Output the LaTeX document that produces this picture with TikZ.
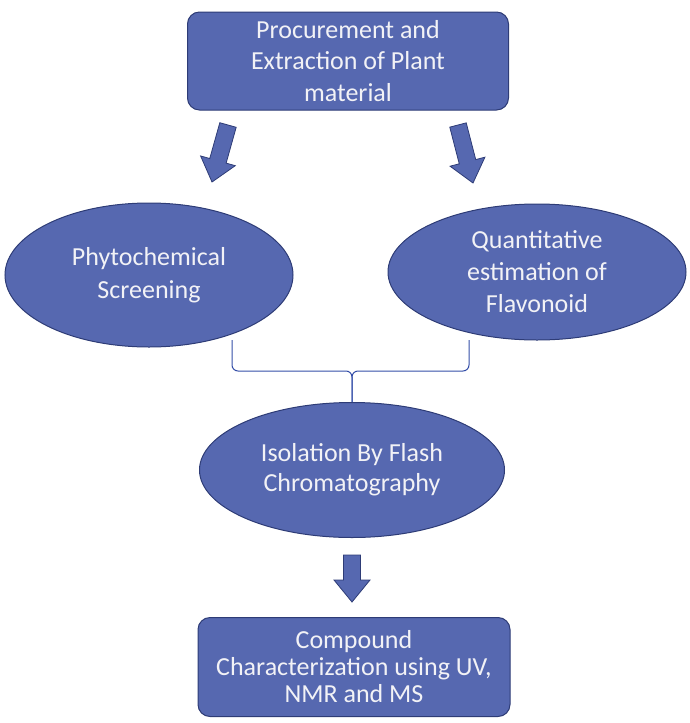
\documentclass[tikz,border=0pt]{standalone}
\usepackage{fontspec}
\setmainfont{Carlito}
\usetikzlibrary{shapes.geometric,calc}

\definecolor{boxfill}{RGB}{86,104,176}
\definecolor{boxline}{RGB}{46,60,118}
\definecolor{bracecol}{RGB}{52,78,168}
\definecolor{textcol}{RGB}{242,242,246}

\tikzset{
  procbox/.style={draw=boxline, fill=boxfill, line width=1pt, rounded corners=12pt,
    text=textcol, align=center, inner sep=0pt},
  oval/.style={ellipse, draw=boxline, fill=boxfill, line width=1pt,
    text=textcol, align=center, inner sep=0pt},
  blockarrow/.style={draw=boxline, fill=boxfill, line width=0.8pt, line join=miter,
    to path={($(\tikztostart)!8.5pt!90:(\tikztotarget)$)
      -- ($($(\tikztotarget)!22pt!(\tikztostart)$)!8.5pt!90:(\tikztotarget)$)
      -- ($($(\tikztotarget)!22pt!(\tikztostart)$)!18pt!90:(\tikztotarget)$)
      -- (\tikztotarget)
      -- ($($(\tikztotarget)!22pt!(\tikztostart)$)!18pt!-90:(\tikztotarget)$)
      -- ($($(\tikztotarget)!22pt!(\tikztostart)$)!8.5pt!-90:(\tikztotarget)$)
      -- ($(\tikztostart)!8.5pt!-90:(\tikztotarget)$) -- cycle}},
  bracket/.style={draw=bracecol, line width=1pt, rounded corners=6pt}
}

\begin{document}
\begin{tikzpicture}[x=1pt, y=-1pt]
\useasboundingbox (0,0) rectangle (690,723);

\node[procbox, minimum width=321pt, minimum height=98pt,
  font=\fontsize{26}{31.5}\selectfont] (proc) at (348,61)
  {Procurement and\\Extraction of Plant\\material};

\node[oval, minimum width=288pt, minimum height=144pt,
  font=\fontsize{26}{33}\selectfont] (phyto) at (149,275)
  {Phytochemical\\Screening};

\node[oval, minimum width=298pt, minimum height=136pt,
  font=\fontsize{26}{32}\selectfont] (quant) at (537,272)
  {Quantitative\\estimation of\\Flavonoid};

\node[oval, minimum width=305pt, minimum height=135pt,
  font=\fontsize{26}{30}\selectfont] (iso) at (352,470)
  {Isolation By Flash\\Chromatography};

\node[procbox, minimum width=312pt, minimum height=99pt,
  font=\fontsize{26}{27}\selectfont] (charac) at (354,667)
  {Compound\\Characterization using UV,\\NMR and MS};

\coordinate (a1s) at (228,125);
\coordinate (a1t) at (212,182);
\coordinate (a2s) at (458,125);
\coordinate (a2t) at (473,183);
\coordinate (a3s) at (352,555);
\coordinate (a3t) at (352,602);

\draw[blockarrow] (a1s) to (a1t);
\draw[blockarrow] (a2s) to (a2t);
\draw[blockarrow] (a3s) to (a3t);

\coordinate (bl) at (232,340);
\coordinate (br) at (469,340);
\coordinate (bm) at (352,371);

\draw[bracket] (bl) |- (bm) -- (iso.north);
\draw[bracket] (br) |- (bm) -- (iso.north);

\end{tikzpicture}
\end{document}
